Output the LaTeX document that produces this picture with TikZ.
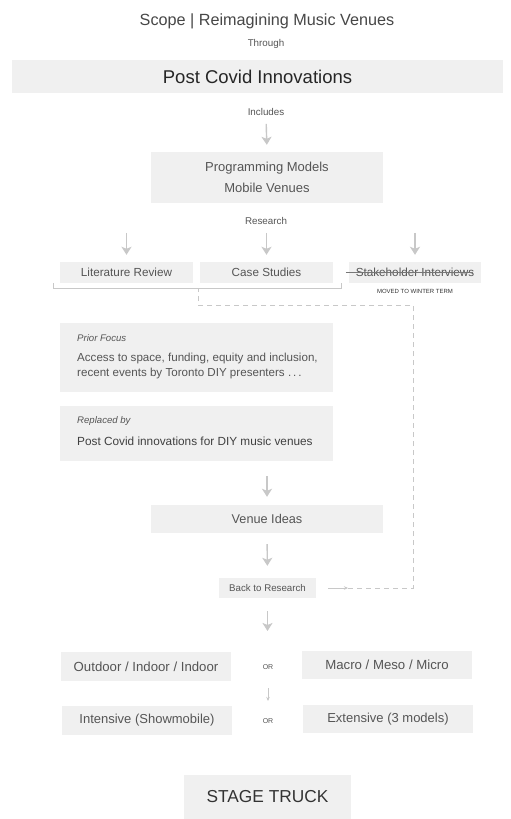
\documentclass[tikz,border=0pt]{standalone}
\usepackage{fontspec}
\setmainfont{Liberation Sans}
\usetikzlibrary{arrows.meta}

\definecolor{boxgray}{HTML}{F0F0F0}
\definecolor{linegray}{HTML}{C8C8C8}
\definecolor{textgray}{HTML}{555555}

\tikzset{
	box/.style = {fill = boxgray, inner sep = 0pt, text = textgray},
	smalltext/.style = {font = \fontsize{9.8}{11}\selectfont, text = textgray, inner sep = 1pt},
	bigarrow/.style = {line width = 1.4pt, linegray, -{Stealth[length = 8pt, width = 10pt, inset = 2pt]}},
	thinarrow/.style = {line width = 0.6pt, linegray, -{Stealth[length = 4pt, width = 3.5pt]}},
	dashline/.style = {line width = 0.8pt, linegray, dash pattern = on 5pt off 4pt}
}

\begin{document}
\begin{tikzpicture}[> = latex, x = 1pt, y = -1pt]

	% Page

	\useasboundingbox [fill = white] (0, 0) rectangle (511, 819);

	% Heading

	\node [text = black!72, font = \fontsize{16.2}{19}\selectfont] (title) at (267, 21) {Scope | Reimagining Music Venues};
	\node [smalltext] (through) at (266, 44) {Through};
	\node [box, minimum width = 491pt, minimum height = 33pt, text = black!85, font = \fontsize{18.5}{22}\selectfont] (covid) at (257.5, 76.5) {Post Covid Innovations};
	\node [smalltext] (includes) at (266, 112) {Includes};

	% Programming and research

	\node [box, minimum width = 232pt, minimum height = 51pt, align = center, font = \fontsize{13}{21}\selectfont] (prog) at (267, 177.5) {Programming Models\\Mobile Venues};
	\node [smalltext] (research) at (266, 221) {Research};

	\node [box, minimum width = 133pt, minimum height = 21pt, font = \fontsize{11.7}{13}\selectfont] (lit) at (126.5, 272.5) {Literature Review};
	\node [box, minimum width = 133pt, minimum height = 21pt, font = \fontsize{11.7}{13}\selectfont] (case) at (266.5, 272.5) {Case Studies};
	\node [box, minimum width = 132pt, minimum height = 21pt, font = \fontsize{11.7}{13}\selectfont] (stake) at (415, 272.5) {Stakeholder Interviews};
	\node [text = black!80, font = \fontsize{6}{7}\selectfont, inner sep = 1pt] (winter) at (415, 291) {MOVED TO WINTER TERM};

	\draw [textgray!80, line width = 0.6pt] ([xshift = -3pt] stake.west) -- ([xshift = -8pt] stake.east);

	\draw [bigarrow, shorten < = 7pt, shorten > = 7pt] (includes.south) -- (prog.north);
	\foreach \n in {lit, case, stake}
		\draw [bigarrow, shorten < = 7pt, shorten > = 7pt] (research.south -| \n.north) -- (\n.north);

	% Bracket

	\coordinate (bl) at (53, 283);
	\coordinate (br) at (341, 283);
	\coordinate (bm) at (198, 288);
	\draw [linegray, line width = 0.8pt] (bl) |- (br |- bm) -- (br);

	% Focus

	\node [box, minimum width = 273pt, minimum height = 69pt] (prior) at (196.5, 357.5) {};
	\node [anchor = west, text = textgray, font = \fontsize{9.6}{11}\itshape, inner sep = 0pt] (priorhead) at (77, 338) {Prior Focus};
	\node [anchor = north west, align = left, text = textgray, font = \fontsize{11.6}{15}\selectfont, inner sep = 0pt] (priortext) at (77, 353) {Access to space, funding, equity and inclusion,\\recent events by Toronto DIY presenters .\,.\,.};

	\node [box, minimum width = 273pt, minimum height = 55pt] (replaced) at (196.5, 433.5) {};
	\node [anchor = west, text = textgray, font = \fontsize{9.6}{11}\itshape, inner sep = 0pt] (replacedhead) at (77, 421) {Replaced by};
	\node [anchor = west, text = black!75, font = \fontsize{11.8}{14}\selectfont, inner sep = 0pt] (replacedtext) at (77, 441) {Post Covid innovations for DIY music venues};

	% Venue ideas

	\node [box, minimum width = 232pt, minimum height = 28pt, font = \fontsize{12.7}{15}\selectfont] (venue) at (267, 519) {Venue Ideas};
	\node [box, minimum width = 97pt, minimum height = 20pt, font = \fontsize{9.7}{11}\selectfont] (back) at (267.5, 588) {Back to Research};

	\draw [bigarrow, shorten < = 15pt, shorten > = 8pt] (replaced.south -| venue.north) -- (venue.north);
	\draw [bigarrow, shorten < = 11pt, shorten > = 12pt] (venue.south) -- (back.north);

	% Loop back

	\coordinate (loopstart) at (328, 588);
	\coordinate (loopturn) at (348, 588);
	\coordinate (loopcorner) at (413, 588);
	\draw [thinarrow] (loopstart) -- (loopturn);
	\draw [dashline] (loopturn) -- (loopcorner) -- (loopcorner |- 0, 305) -| (bm);

	% Options

	\node [box, minimum width = 170pt, minimum height = 29pt, font = \fontsize{13.2}{15}\selectfont] (outdoor) at (146, 666.5) {Outdoor / Indoor / Indoor};
	\node [font = \fontsize{7}{8}\selectfont, text = textgray] (orA) at (268, 667) {OR};
	\node [box, minimum width = 170pt, minimum height = 28pt, font = \fontsize{13.2}{15}\selectfont] (macro) at (387, 665) {Macro / Meso / Micro};

	\node [box, minimum width = 170pt, minimum height = 29pt, font = \fontsize{13}{15}\selectfont] (intensive) at (147, 720.5) {Intensive (Showmobile)};
	\node [font = \fontsize{7}{8}\selectfont, text = textgray] (orB) at (268, 721) {OR};
	\node [box, minimum width = 170pt, minimum height = 28pt, font = \fontsize{13}{15}\selectfont] (extensive) at (388, 719) {Extensive (3 models)};

	\draw [bigarrow, shorten < = 13pt, shorten > = 30pt] (back.south) -- (orA.north -| back.south);
	\draw [thinarrow, shorten < = 15pt, shorten > = 14pt] (orA) -- (orB);

	% Result

	\node [box, minimum width = 167pt, minimum height = 44pt, text = black!80, font = \fontsize{17.3}{20}\selectfont] (stage) at (267.5, 797) {STAGE TRUCK};

\end{tikzpicture}
\end{document}
